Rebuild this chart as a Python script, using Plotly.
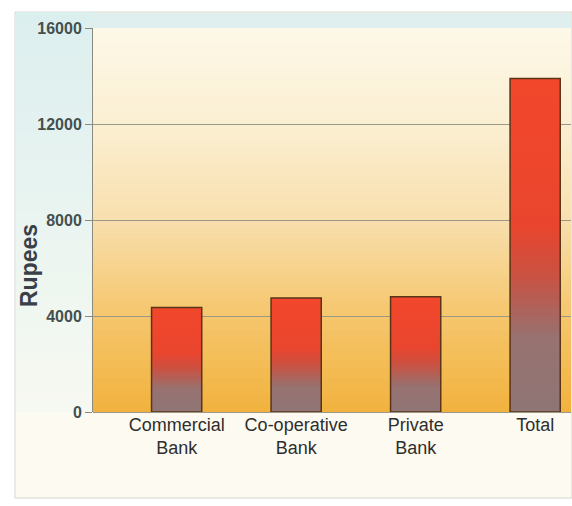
import plotly.graph_objects as go

categories = ["Commercial<br>Bank", "Co-operative<br>Bank", "Private<br>Bank", "Total"]
values = [4350, 4750, 4800, 13900]
y_ticks = [0, 4000, 8000, 12000, 16000]

W, H = 572, 506
L, R, T, B = 93, 1, 28, 94
pw, ph = W - L - R, H - T - B

def px_x(p):
    return (p - L) / pw

def px_y(p):
    return (H - B - p) / ph

def lerp(c1, c2, t):
    a = [int(c1[i:i + 2], 16) for i in (1, 3, 5)]
    b = [int(c2[i:i + 2], 16) for i in (1, 3, 5)]
    return "rgb(%d,%d,%d)" % tuple(round(a[k] + (b[k] - a[k]) * t) for k in range(3))

def scale_color(stops, t):
    for (t0, c0), (t1, c1) in zip(stops, stops[1:]):
        if t <= t1:
            return lerp(c0, c1, (t - t0) / (t1 - t0) if t1 > t0 else 0)
    return stops[-1][1]

shapes = []
# outer panel
shapes.append(dict(type="rect", xref="paper", yref="paper", layer="below",
                   x0=px_x(15), x1=px_x(572), y0=px_y(498), y1=px_y(12),
                   fillcolor="#fcfaf1", line=dict(color="#d6d6ce", width=1)))
# left band + top strip (blue fading)
N = 40
for i in range(N):
    t0, t1 = i / N, (i + 1) / N
    ytop = 12 + (412 - 12) * t0
    ybot = 12 + (412 - 12) * t1 + 0.5
    col = lerp("#dcefef", "#f7f9f1", t0)
    shapes.append(dict(type="rect", xref="paper", yref="paper", layer="below",
                       x0=px_x(16), x1=px_x(93), y0=px_y(ybot), y1=px_y(ytop),
                       fillcolor=col, line=dict(width=0)))
shapes.append(dict(type="rect", xref="paper", yref="paper", layer="below",
                   x0=px_x(93), x1=px_x(571), y0=px_y(28), y1=px_y(13),
                   fillcolor="#dfefef", line=dict(width=0)))
# plot background gradient
bg_stops = [(0, "#f2b23e"), (0.25, "#f5c66c"), (0.5, "#f8dfae"), (0.75, "#fbefd2"), (1, "#fdf8e8")]
NB = 80
for i in range(NB):
    t0, t1 = i / NB, (i + 1) / NB
    shapes.append(dict(type="rect", xref="paper", yref="paper", layer="below",
                       x0=0, x1=1, y0=t0, y1=min(1, t1 + 0.003),
                       fillcolor=scale_color(bg_stops, (t0 + t1) / 2), line=dict(width=0)))

fig = go.Figure()
bw = 0.42
bar_scale = [[0, "#8f7575"], [0.22, "#977270"], [0.42, "#cc5040"], [0.56, "#e9452e"], [1, "#f2472b"]]
for i, v in enumerate(values):
    xs = [i - bw / 2, i - bw / 2, i + bw / 2, i + bw / 2, i - bw / 2]
    ys = [0, v, v, 0, 0]
    fig.add_trace(go.Scatter(
        x=xs, y=ys, mode="lines", fill="toself",
        fillgradient=dict(type="vertical", colorscale=bar_scale, start=0, stop=v),
        line=dict(color="#5a3418", width=1.5),
        hoverinfo="skip", showlegend=False))

fig.add_annotation(text="Rupees", textangle=-90, xref="paper", yref="paper",
                   x=px_x(29), y=px_y(266), xanchor="center", yanchor="middle", showarrow=False,
                   font=dict(family="Liberation Sans, Arial", size=23, color="#3a4048", weight="bold"))

fig.update_layout(
    width=W, height=H,
    margin=dict(l=L, r=R, t=T, b=B),
    paper_bgcolor="white",
    plot_bgcolor="rgba(0,0,0,0)",
    shapes=shapes,
    showlegend=False,
    xaxis=dict(range=[-0.7, 3.3], tickvals=list(range(len(categories))), ticktext=categories,
               showgrid=False, zeroline=False, showline=False, ticks="",
               tickfont=dict(family="Liberation Sans, Arial", size=18, color="#2e2e2e"),
               fixedrange=True),
    yaxis=dict(range=[0, 16000], tickvals=y_ticks, ticktext=[str(t) for t in y_ticks],
               showgrid=True, gridcolor="#9c9888", gridwidth=1,
               zeroline=True, zerolinecolor="#9c9888", zerolinewidth=1,
               showline=True, linecolor="#8a8a80", linewidth=1,
               ticks="outside", ticklen=7, tickcolor="#8a8a80",
               tickfont=dict(family="Liberation Sans, Arial", size=16, color="#44504e", weight="bold"),
               fixedrange=True),
)

fig.write_html("out.html")
